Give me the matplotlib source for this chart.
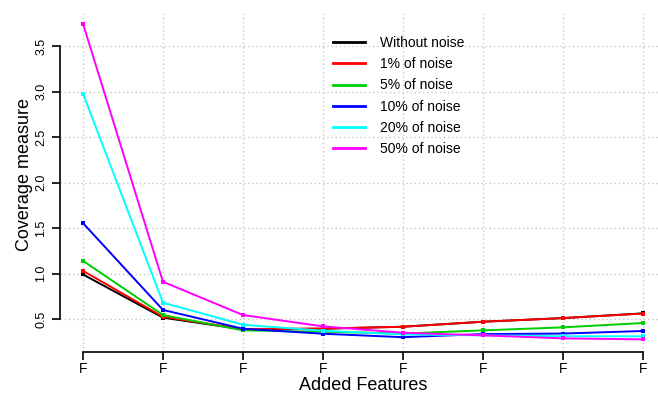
import matplotlib
matplotlib.use("Agg")
import matplotlib.pyplot as plt
from matplotlib.lines import Line2D

plt.rcParams["font.family"] = ["Liberation Sans", "DejaVu Sans"]

features = ["F", "F", "F", "F", "F", "F", "F", "F"]
y_ticks = [0.5, 1.0, 1.5, 2.0, 2.5, 3.0, 3.5]

labels = ["Without noise", "1% of noise", "5% of noise",
          "10% of noise", "20% of noise", "50% of noise"]
colors = ["#000000", "#FF0000", "#00CD00", "#0000FF", "#00FFFF", "#FF00FF"]

no_noise = [0.99, 0.515, 0.386, 0.393, 0.415, 0.470, 0.510, 0.562]
noise_1 = [1.03, 0.525, 0.390, 0.395, 0.415, 0.470, 0.510, 0.560]
noise_5 = [1.14, 0.544, 0.375, 0.360, 0.340, 0.375, 0.408, 0.456]
noise_10 = [1.555, 0.600, 0.393, 0.338, 0.300, 0.334, 0.340, 0.368]
noise_20 = [2.98, 0.680, 0.437, 0.371, 0.330, 0.320, 0.310, 0.310]
noise_50 = [3.75, 0.910, 0.544, 0.419, 0.349, 0.320, 0.287, 0.276]

series = [no_noise, noise_1, noise_5, noise_10, noise_20, noise_50]
x = list(range(1, len(features) + 1))

fig = plt.figure(figsize=(6.58, 3.94), dpi=100)
ax = fig.add_axes([60 / 658, 42 / 394, 598 / 658, 341 / 394])

# dotted grid
for xv in x:
    ax.axvline(xv, color="#c8c8c8", linestyle=(0, (1, 2)), linewidth=1, zorder=0)
for yv in y_ticks:
    ax.axhline(yv, color="#c8c8c8", linestyle=(0, (1, 2)), linewidth=1, zorder=0)

for vals, col in zip(series, colors):
    ax.plot(x, vals, color=col, linewidth=1.4, marker="s", markersize=2.6,
            markeredgewidth=0)

ax.set_xlim(0.7125, 8.19)
ax.set_ylim(0.137, 3.889)

for side in ["top", "right"]:
    ax.spines[side].set_visible(False)
ax.spines["left"].set_bounds(0.5, 3.5)
ax.spines["bottom"].set_bounds(1, 8)
ax.spines["left"].set_linewidth(1.2)
ax.spines["bottom"].set_linewidth(1.2)

ax.set_xticks(x)
ax.set_xticklabels(features, fontsize=10)
ax.set_yticks(y_ticks)
ax.set_yticklabels([f"{v:.1f}" for v in y_ticks], fontsize=9, rotation=90,
                   va="center")
ax.tick_params(axis="both", length=6, width=1.2, pad=3)
ax.tick_params(axis="x", pad=1.5)

ax.set_xlabel("Added Features", fontsize=13, labelpad=0)
ax.set_ylabel("Coverage measure", fontsize=13, labelpad=1)
ax.xaxis.set_label_coords(0.507, -0.072)
ax.yaxis.set_label_coords(-0.045, 0.52)

handles = [Line2D([], [], color=c, linewidth=2) for c in colors]
fig.legend(handles, labels, loc="upper left",
           bbox_to_anchor=(333 / 658, 1 - 36 / 394),
           frameon=False, fontsize=10, handlelength=2.3, handletextpad=1.1,
           labelspacing=0.52, borderpad=0, borderaxespad=0)

fig.savefig("out.png", dpi=100)
